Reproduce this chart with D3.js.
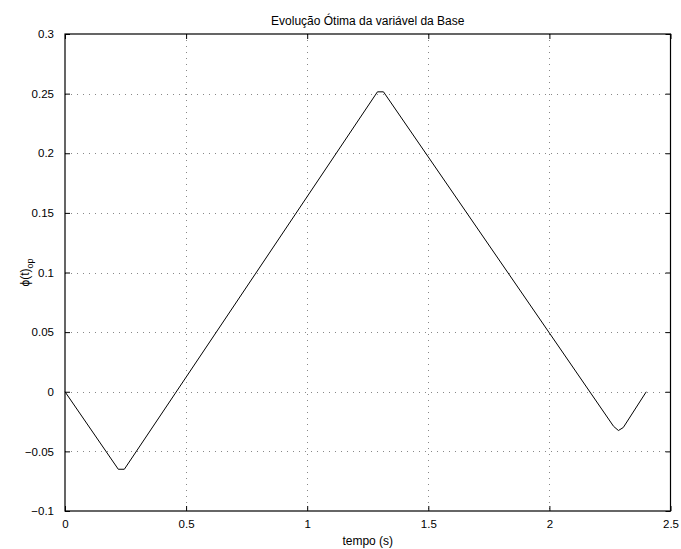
<!DOCTYPE html>
<html>
<head>
<meta charset="utf-8">
<script src="https://cdn.jsdelivr.net/npm/d3@7"></script>
<style>
  body { margin: 0; background: #fff; }
  svg { display: block; font-family: "Liberation Sans", Arial, sans-serif; }
</style>
</head>
<body>
<svg id="chart" width="681" height="549"></svg>
<script>
// Optimal base-angle trajectory over time
const timeValues = [0, 0.22, 0.245, 1.29, 1.315, 2.265, 2.285, 2.305, 2.4];
const phiValues  = [0, -0.065, -0.065, 0.2515, 0.2515, -0.029, -0.0325, -0.030, 0];

const xTicks = [0, 0.5, 1, 1.5, 2, 2.5];
const xTickLabels = ["0", "0.5", "1", "1.5", "2", "2.5"];
const yTicks = [-0.1, -0.05, 0, 0.05, 0.1, 0.15, 0.2, 0.25, 0.3];
const yTickLabels = ["\u22120.1", "\u22120.05", "0", "0.05", "0.1", "0.15", "0.2", "0.25", "0.3"];

const titleText = "Evolução Ótima da variável da Base";
const xLabelText = "tempo (s)";

const svg = d3.select("#chart");
const margin = { left: 65, right: 10.5, top: 34, bottom: 38 };
const W = 681, H = 549;
const x0 = margin.left, x1 = W - margin.right;
const y0 = margin.top, y1 = H - margin.bottom;

const x = d3.scaleLinear().domain([0, 2.5]).range([x0, x1]);
const y = d3.scaleLinear().domain([-0.1, 0.3]).range([y1, y0]);

const tickLen = 5;
const g = svg.append("g");

// dotted grid
g.append("g").selectAll("line.gx").data(xTicks.slice(1, -1)).join("line")
  .attr("x1", d => Math.round(x(d)) + 0.5).attr("x2", d => Math.round(x(d)) + 0.5)
  .attr("y1", y0).attr("y2", y1)
  .attr("stroke", "#888").attr("stroke-width", 1).attr("stroke-dasharray", "1,5");
g.append("g").selectAll("line.gy").data(yTicks.slice(1, -1)).join("line")
  .attr("y1", d => Math.round(y(d)) + 0.5).attr("y2", d => Math.round(y(d)) + 0.5)
  .attr("x1", x0).attr("x2", x1)
  .attr("stroke", "#888").attr("stroke-width", 1).attr("stroke-dasharray", "1,5");

// axes with inward ticks on all four sides
const bottomAxis = d3.axisBottom(x).tickValues(xTicks).tickSize(-tickLen)
  .tickFormat((d, i) => xTickLabels[i]).tickPadding(9);
const topAxis = d3.axisTop(x).tickValues(xTicks).tickSize(-tickLen).tickFormat("");
const leftAxis = d3.axisLeft(y).tickValues(yTicks).tickSize(-tickLen)
  .tickFormat((d, i) => yTickLabels[i]).tickPadding(11);
const rightAxis = d3.axisRight(y).tickValues(yTicks).tickSize(-tickLen).tickFormat("");

function styleAxis(sel) {
  sel.select(".domain").remove();
  sel.selectAll(".tick line").attr("stroke", "#000");
  sel.selectAll(".tick text").attr("fill", "#000").attr("font-size", 11.5)
    .attr("font-family", "Liberation Sans, Arial, sans-serif");
}
g.append("g").attr("transform", `translate(0,${y1})`).call(bottomAxis).call(styleAxis);
g.append("g").attr("transform", `translate(0,${y0})`).call(topAxis).call(styleAxis);
g.append("g").attr("transform", `translate(${x0},0)`).call(leftAxis).call(styleAxis);
g.append("g").attr("transform", `translate(${x1},0)`).call(rightAxis).call(styleAxis);

// plot box
g.append("rect").attr("x", x0).attr("y", y0).attr("width", x1 - x0).attr("height", y1 - y0)
  .attr("fill", "none").attr("stroke", "#000").attr("stroke-width", 1.2);

// trajectory
const pts = timeValues.map((t, i) => [t, phiValues[i]]);
g.append("path").datum(pts)
  .attr("d", d3.line().x(d => x(d[0])).y(d => y(d[1])))
  .attr("fill", "none").attr("stroke", "#000").attr("stroke-width", 1);

// title and labels
svg.append("text").attr("x", (x0 + x1) / 2).attr("y", 25)
  .attr("text-anchor", "middle").attr("font-size", 12).text(titleText);
svg.append("text").attr("x", (x0 + x1) / 2).attr("y", 545)
  .attr("text-anchor", "middle").attr("font-size", 12).text(xLabelText);

const yl = svg.append("text")
  .attr("transform", `translate(29,${(y0 + y1) / 2}) rotate(-90)`)
  .attr("text-anchor", "middle").attr("font-size", 12);
yl.append("tspan").text("\u03d5(t)");
yl.append("tspan").attr("dy", 4).attr("font-size", 9).text("op");
</script>
</body>
</html>
